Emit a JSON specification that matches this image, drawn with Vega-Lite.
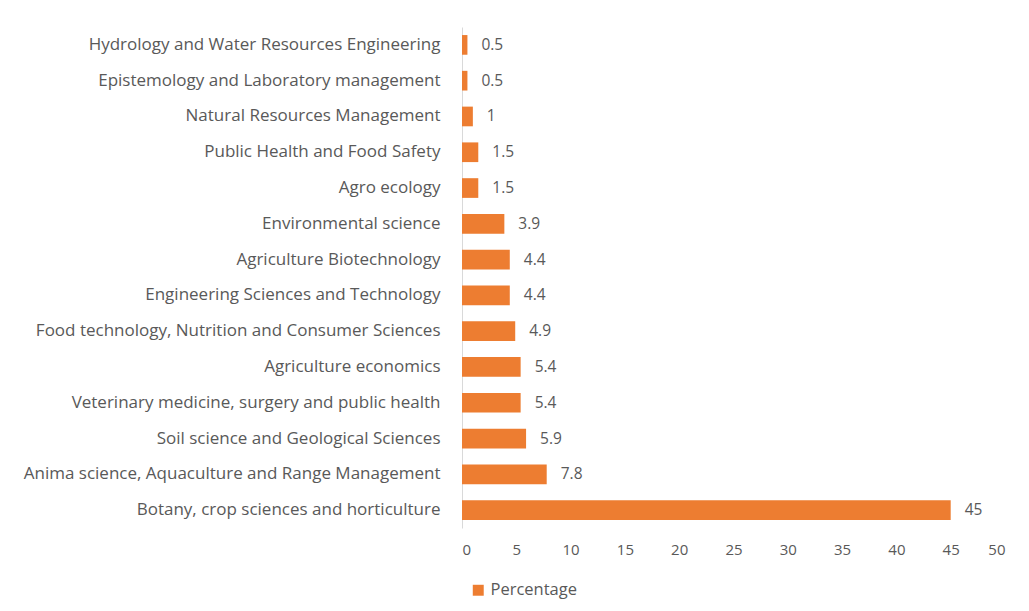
{
  "$schema": "https://vega.github.io/schema/vega-lite/v6.json",
  "width": 543,
  "height": 501,
  "autosize": {"type": "none"},
  "padding": {"left": 462, "top": 27, "right": 24, "bottom": 83},
  "background": "white",
  "data": {
    "values": [
      {"field": "Hydrology and Water Resources Engineering", "value": 0.5},
      {"field": "Epistemology and Laboratory management", "value": 0.5},
      {"field": "Natural Resources Management", "value": 1},
      {"field": "Public Health and Food Safety", "value": 1.5},
      {"field": "Agro ecology", "value": 1.5},
      {"field": "Environmental science", "value": 3.9},
      {"field": "Agriculture Biotechnology", "value": 4.4},
      {"field": "Engineering Sciences and Technology", "value": 4.4},
      {"field": "Food technology, Nutrition and Consumer Sciences", "value": 4.9},
      {"field": "Agriculture economics", "value": 5.4},
      {"field": "Veterinary medicine, surgery and public health", "value": 5.4},
      {"field": "Soil science and Geological Sciences", "value": 5.9},
      {"field": "Anima science, Aquaculture and Range Management", "value": 7.8},
      {"field": "Botany, crop sciences and horticulture", "value": 45}
    ]
  },
  "config": {
    "view": {"stroke": null},
    "font": "Open Sans",
    "axis": {"labelFont": "Open Sans", "labelColor": "#595959", "grid": false, "ticks": false, "title": null}
  },
  "encoding": {
    "y": {
      "field": "field", "type": "nominal", "sort": null,
      "scale": {"paddingInner": 0.45, "paddingOuter": 0.225},
      "axis": {"domainColor": "#d9d9d9", "labelPadding": 22, "labelLimit": 0, "labelFontSize": 17}
    },
    "x": {
      "field": "value", "type": "quantitative",
      "scale": {"domain": [0, 50], "nice": false},
      "axis": {"values": [0,5,10,15,20,25,30,35,40,45,50], "domain": false, "labelPadding": 14, "labelFontSize": 15}
    }
  },
  "layer": [
    {
      "mark": {"type": "bar"},
      "encoding": {
        "color": {"datum": "Percentage", "type": "nominal", "scale": {"range": ["#ED7D31"]},
          "legend": {"title": null, "orient": "none", "legendX": 8, "legendY": 555, "symbolType": "square", "symbolSize": 120, "symbolStrokeWidth": 0, "labelFontSize": 16.5, "labelColor": "#595959", "labelFont": "Open Sans", "labelOffset": 4}}
      }
    },
    {
      "mark": {"type": "text", "align": "left", "dx": 14, "fontSize": 15.5, "color": "#595959", "font": "Open Sans"},
      "encoding": {"text": {"field": "value", "type": "quantitative"}}
    }
  ]
}
